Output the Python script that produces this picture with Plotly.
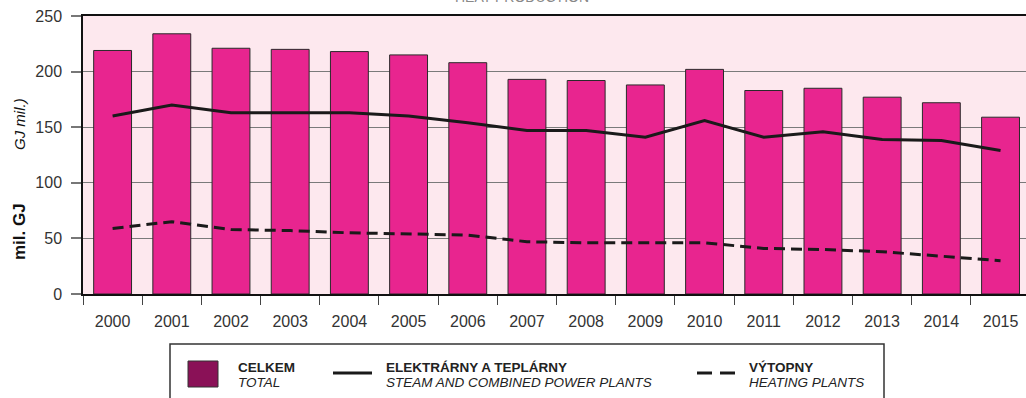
import plotly.graph_objects as go

years = [str(y) for y in range(2000, 2016)]
total = [219, 234, 221, 220, 218, 215, 208, 193, 192, 188, 202, 183, 185, 177, 172, 159]
power_plants = [160, 170, 163, 163, 163, 160, 154, 147, 147, 141, 156, 141, 146, 139, 138, 129]
heating_plants = [59, 65, 58, 57, 55, 54, 53, 47, 46, 46, 46, 41, 40, 38, 34, 30]
y_ticks = [0, 50, 100, 150, 200, 250]

W, H = 1026, 398
L, R, T, B = 83, 0, 16, 104
PW, PH = W - L - R, H - T - B

def px(x):
    return (x - L) / PW

def py(y):
    return (H - B - y) / PH

FONT = "Liberation Sans"
BAR = "#E8258F"
LINE = "#1a1a1a"

fig = go.Figure()
fig.add_trace(go.Bar(x=years, y=total, width=0.64, marker=dict(color=BAR, line=dict(color="#2a2a2a", width=1)),
                     showlegend=False))
fig.add_trace(go.Scatter(x=years, y=power_plants, mode="lines", line=dict(color=LINE, width=3), showlegend=False))
fig.add_trace(go.Scatter(x=years, y=heating_plants, mode="lines",
                         line=dict(color=LINE, width=3, dash="11px,6px"), showlegend=False))

shapes = []
annotations = []

# Legend box
shapes.append(dict(type="rect", xref="paper", yref="paper", x0=px(170), x1=px(884), y0=py(420), y1=py(344),
                   line=dict(color="#333333", width=1.5), fillcolor="rgba(0,0,0,0)", layer="above"))
# swatch
shapes.append(dict(type="rect", xref="paper", yref="paper", x0=px(188), x1=px(218), y0=py(387), y1=py(361),
                   line=dict(color="#333333", width=1), fillcolor="#8A1157", layer="above"))
# solid line sample
shapes.append(dict(type="line", xref="paper", yref="paper", x0=px(333), x1=px(372), y0=py(373), y1=py(373),
                   line=dict(color=LINE, width=3), layer="above"))
# dashed line sample
shapes.append(dict(type="line", xref="paper", yref="paper", x0=px(697), x1=px(712), y0=py(373), y1=py(373),
                   line=dict(color=LINE, width=3), layer="above"))
shapes.append(dict(type="line", xref="paper", yref="paper", x0=px(720), x1=px(735), y0=py(373), y1=py(373),
                   line=dict(color=LINE, width=3), layer="above"))

def legend_text(x, bold, ital):
    annotations.append(dict(xref="paper", yref="paper", x=px(x), y=py(367), text="<b>" + bold + "</b>",
                            showarrow=False, xanchor="left", yanchor="middle",
                            font=dict(family=FONT, size=13.5, color="#222222")))
    annotations.append(dict(xref="paper", yref="paper", x=px(x), y=py(382), text="<i>" + ital + "</i>",
                            showarrow=False, xanchor="left", yanchor="middle",
                            font=dict(family=FONT, size=13.5, color="#222222")))

legend_text(236, "CELKEM", "TOTAL")
legend_text(384, "ELEKTRÁRNY A TEPLÁRNY", "STEAM AND COMBINED POWER PLANTS")
legend_text(747, "VÝTOPNY", "HEATING PLANTS")

# Y-axis title (two parts)
annotations.append(dict(xref="paper", yref="paper", x=px(19), y=py(232),
                        text="<b>mil. GJ</b>", textangle=-90, showarrow=False,
                        xanchor="center", yanchor="middle", font=dict(family=FONT, size=17, color="#111111")))
annotations.append(dict(xref="paper", yref="paper", x=px(19), y=py(124),
                        text="<i>GJ mil.)</i>", textangle=-90, showarrow=False,
                        xanchor="center", yanchor="middle", font=dict(family=FONT, size=15, color="#111111")))
# Title (cut off at top in the reference)
annotations.append(dict(xref="paper", yref="paper", x=px(522), y=py(-3),
                        text="HEAT PRODUCTION", showarrow=False, xanchor="center", yanchor="middle",
                        font=dict(family=FONT, size=14, color="#888888")))

fig.update_layout(
    width=W, height=H,
    margin=dict(l=L, r=R, t=T, b=B, pad=0),
    paper_bgcolor="white",
    plot_bgcolor="#FDE8EE",
    bargap=0.36,
    shapes=shapes,
    annotations=annotations,
    xaxis=dict(
        type="category", range=[-0.5, 15.43], tickson="boundaries", ticks="outside", ticklen=9,
        tickcolor="#444444", tickwidth=1.2, showline=True, linecolor="#111111", linewidth=2, mirror=True,
        showgrid=False, tickfont=dict(family=FONT, size=16, color="#333333"), fixedrange=True,
        ticklabelstandoff=12,
    ),
    yaxis=dict(
        range=[0, 250], tickvals=y_ticks, ticks="outside", ticklen=10, tickcolor="#777777", tickwidth=1.5,
        showline=True, linecolor="#111111", linewidth=1.5, showgrid=True, gridcolor="#7a7a7a", gridwidth=1.2,
        zeroline=False, tickfont=dict(family=FONT, size=16, color="#333333"), ticklabelstandoff=6,
    ),
)

fig.write_html("out.html", config={"displayModeBar": False},
               post_script="document.body.style.margin='0';document.body.style.overflow='hidden';")
